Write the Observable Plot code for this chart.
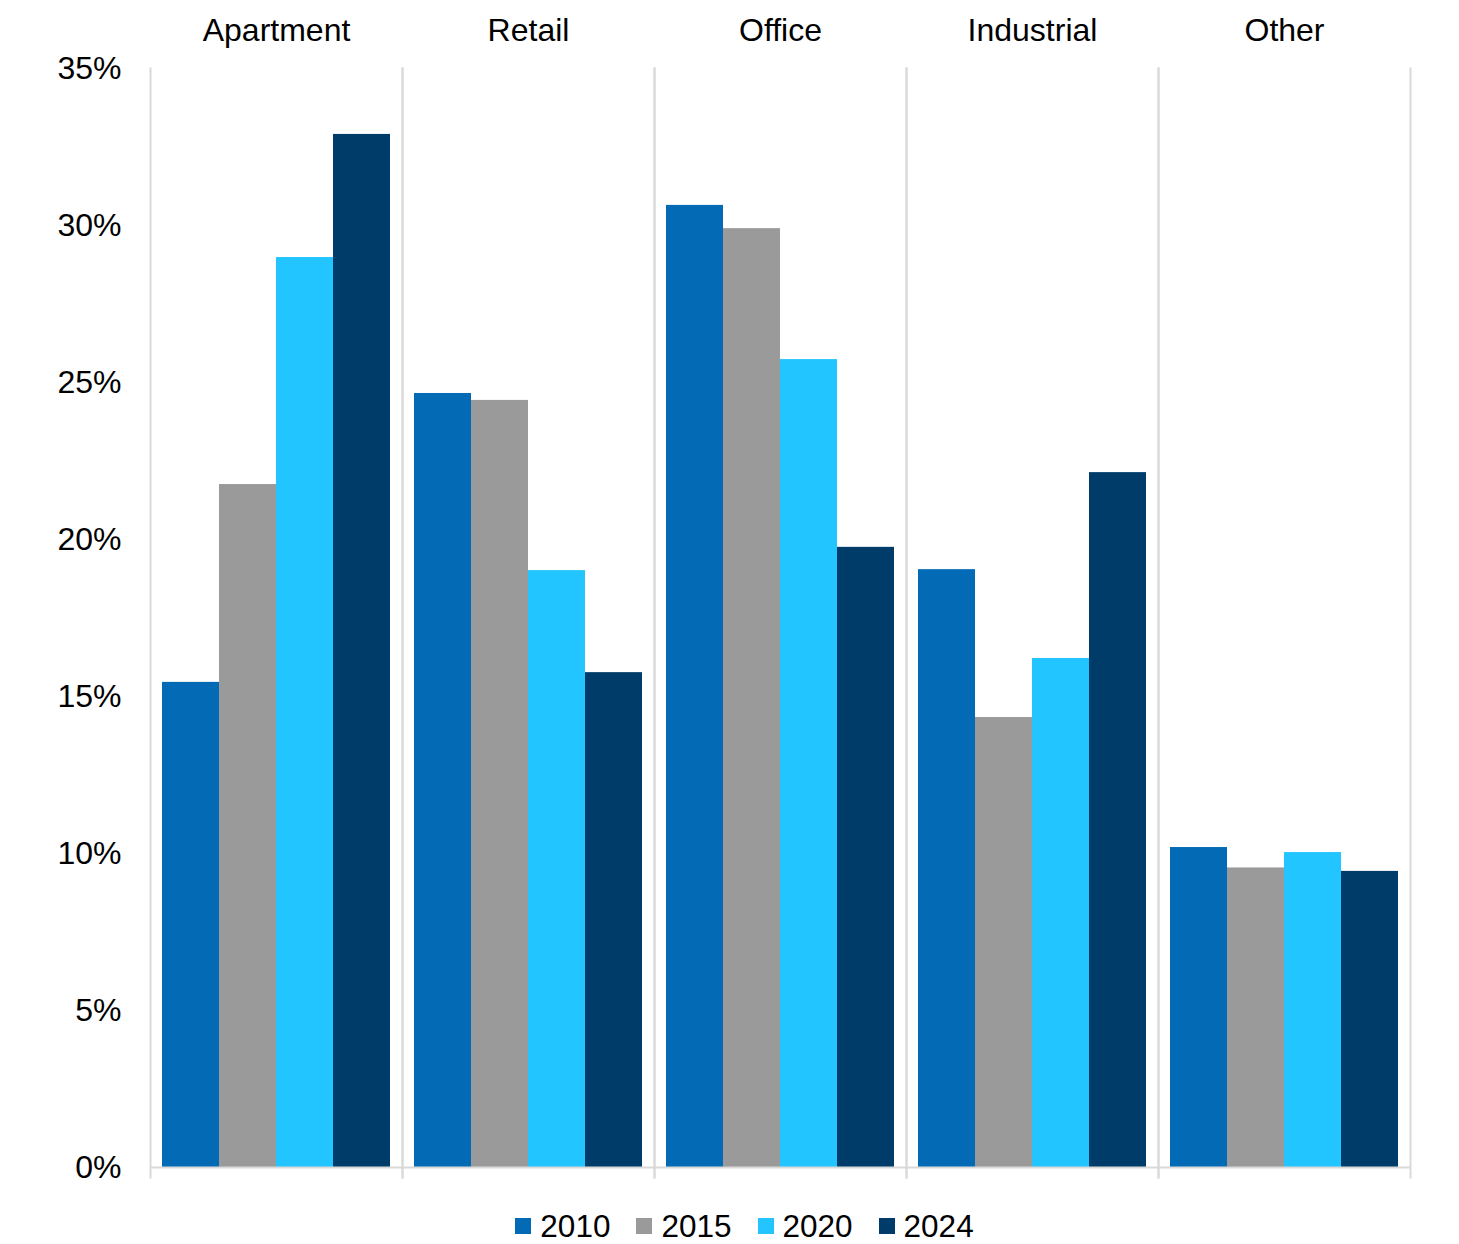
<!DOCTYPE html>
<html>
<head>
<meta charset="utf-8">
<script src="https://cdn.jsdelivr.net/npm/d3@7"></script>
<script src="https://cdn.jsdelivr.net/npm/@observablehq/plot@0.6"></script>
<style>
  html, body { margin: 0; padding: 0; background: #fff; }
  body { width: 1459px; font-family: "Liberation Sans", Arial, sans-serif; }
  #legend { display: flex; justify-content: center; align-items: center; height: 52px; padding-left: 30px; font-size: 31.5px; color: #000; }
  #legend .item { display: flex; align-items: center; margin: 0 13px; }
  #legend .sw { width: 16px; height: 16px; margin-right: 9px; }
</style>
</head>
<body>
<div id="chart"></div>
<div id="legend"></div>
<script>
const categories = ["Apartment", "Retail", "Office", "Industrial", "Other"];
const years = ["2010", "2015", "2020", "2024"];
const v2010 = [15.45, 24.65, 30.64, 19.04, 10.19];
const v2015 = [21.75, 24.43, 29.90, 14.33, 9.54];
const v2020 = [28.98, 19.01, 25.73, 16.21, 10.03];
const v2024 = [32.90, 15.76, 19.75, 22.13, 9.43];
const colors = ["#036AB5", "#9A9A9A", "#22C5FF", "#003C69"];
const yTicks = [0, 5, 10, 15, 20, 25, 30, 35];

const series = [v2010, v2015, v2020, v2024];
const data = [];
categories.forEach((c, i) => {
  years.forEach((y, j) => data.push({category: c, year: y, value: series[j][i]}));
});

const grid = "#d9d9d9";
const plot = Plot.plot({
  width: 1459,
  height: 1200,
  marginLeft: 150,
  marginRight: 49,
  marginTop: 68,
  marginBottom: 23,
  style: {fontFamily: "'Liberation Sans', Arial, sans-serif", fontSize: "32px", color: "#000", background: "#fff"},
  fx: {domain: categories, padding: 0, axis: "top", label: null, tickSize: 0, tickPadding: 28},
  x: {domain: years, paddingInner: 0, paddingOuter: 0.2, axis: null},
  y: {domain: [0, 35], range: [1167, 68], ticks: yTicks, tickFormat: d => d + "%", label: null, tickSize: 0, tickPadding: 29},
  color: {domain: years, range: colors},
  marks: [
    Plot.frame({anchor: "left", stroke: grid, strokeWidth: 2}),
    Plot.frame({anchor: "right", stroke: grid, strokeWidth: 2}),
    Plot.barY(data, {fx: "category", x: "year", y: "value", fill: "year"}),
    Plot.ruleY([0], {stroke: grid, strokeWidth: 2})
  ]
});
document.getElementById("chart").appendChild(plot);

const legend = document.getElementById("legend");
years.forEach((y, j) => {
  const it = document.createElement("div");
  it.className = "item";
  const sw = document.createElement("div");
  sw.className = "sw";
  sw.style.background = colors[j];
  const t = document.createElement("span");
  t.textContent = y;
  it.appendChild(sw);
  it.appendChild(t);
  legend.appendChild(it);
});
</script>
</body>
</html>
